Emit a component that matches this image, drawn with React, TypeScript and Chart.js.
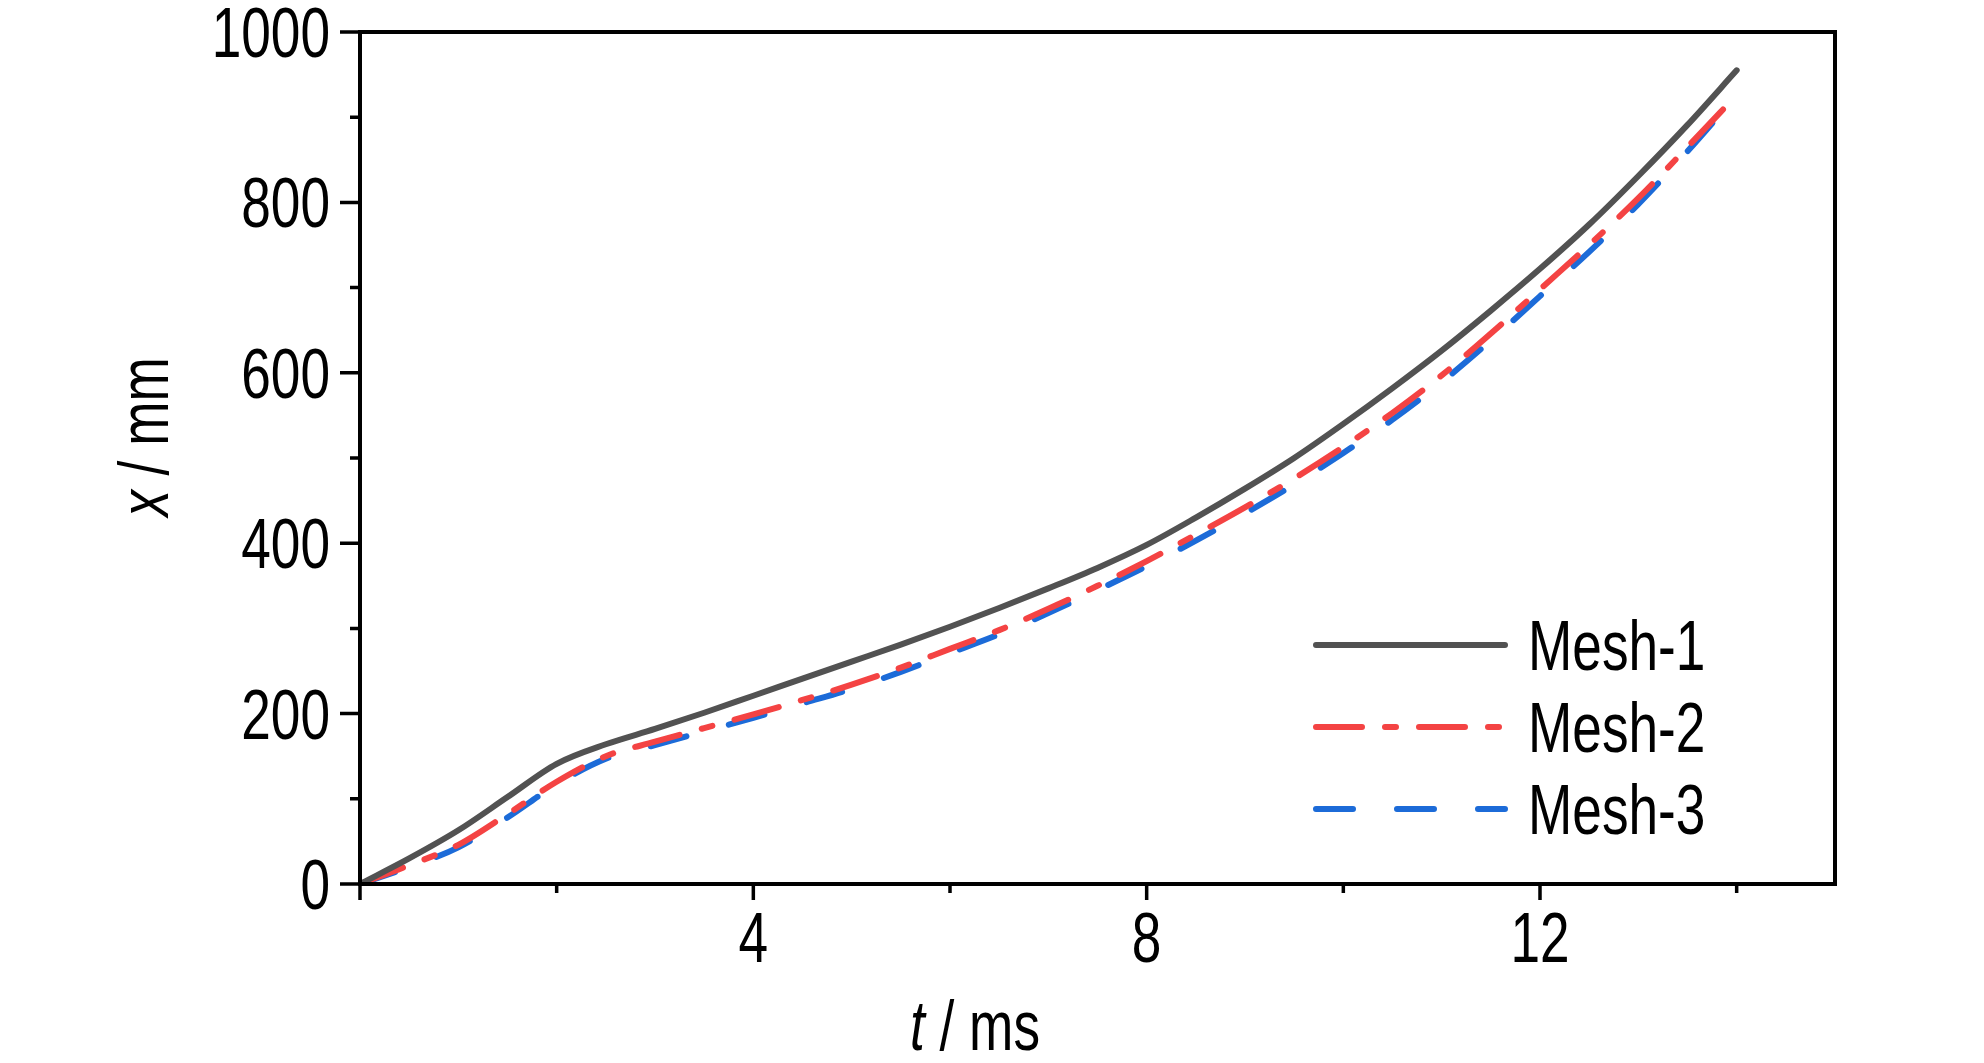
import React, { useEffect, useRef } from 'react';
import { Chart, registerables } from 'chart.js';

Chart.register(...registerables);

// ---- data ----
const timeMs = [0, 0.5, 1, 1.5, 2, 2.5, 3, 3.5, 4, 4.5, 5, 5.5, 6, 6.5, 7, 7.5, 8, 8.5, 9, 9.5, 10, 10.5, 11, 11.5, 12, 12.5, 13, 13.5, 14];
const mesh1 = [0, 30, 63, 102, 141, 164, 182, 201, 221, 241, 261, 281, 302, 324, 347, 371, 398, 430, 464, 500, 540, 582, 626, 673, 722, 774, 831, 891, 955];
const mesh2 = [0, 22, 46, 82, 120, 150, 167, 183, 199, 216, 234, 254, 276, 298, 323, 350, 379, 410, 442, 476, 513, 553, 597, 646, 698, 750, 805, 865, 926];
const mesh3 = [0, 20, 43, 78, 117, 147, 163, 179, 195, 212, 229, 249, 271, 293, 318, 345, 373, 403, 435, 469, 506, 545, 589, 638, 690, 742, 798, 860, 926];
const seriesLabels = ['Mesh-1', 'Mesh-2', 'Mesh-3'];

const xTickLabels = [4, 8, 12];
const yTickLabels = [0, 200, 400, 600, 800, 1000];
const xMajorTicks = [0, 4, 8, 12];
const xMinorTicks = [2, 6, 10, 14];
const yMajorTicks = [0, 200, 400, 600, 800, 1000];
const yMinorTicks = [100, 300, 500, 700, 900];
const xTitleItalic = 't';
const xTitleRest = ' / ms';
const yTitleItalic = 'x';
const yTitleRest = ' / mm';

const FONT = "'Liberation Sans', Arial, sans-serif";
const FS = 70;
const SX = 0.76; // horizontal condensation of the reference's narrow typeface

const W = 1984;
const H = 1063;

function narrowText(ctx: any, text: string, x: number, y: number, align: string, italic = false) {
  ctx.save();
  ctx.translate(x, y);
  ctx.scale(SX, 1);
  ctx.font = `${italic ? 'italic ' : ''}${FS}px ${FONT}`;
  ctx.textAlign = align;
  ctx.textBaseline = 'alphabetic';
  ctx.fillText(text, 0, 0);
  ctx.restore();
}

function textWidth(ctx: any, text: string, italic = false) {
  ctx.save();
  ctx.font = `${italic ? 'italic ' : ''}${FS}px ${FONT}`;
  const w = ctx.measureText(text).width * SX;
  ctx.restore();
  return w;
}

const framePlugin = {
  id: 'framePlugin',
  afterDraw(chart: any) {
    const { ctx, chartArea, scales } = chart;
    const xs = scales.x;
    const ys = scales.y;
    ctx.save();
    ctx.strokeStyle = '#000';
    ctx.lineWidth = 4;
    ctx.lineCap = 'butt';
    ctx.strokeRect(chartArea.left, chartArea.top, chartArea.right - chartArea.left, chartArea.bottom - chartArea.top);
    ctx.lineWidth = 3.5;
    ctx.beginPath();
    xMajorTicks.forEach((v) => {
      const px = xs.getPixelForValue(v);
      ctx.moveTo(px, chartArea.bottom);
      ctx.lineTo(px, chartArea.bottom + 16);
    });
    xMinorTicks.forEach((v) => {
      const px = xs.getPixelForValue(v);
      ctx.moveTo(px, chartArea.bottom);
      ctx.lineTo(px, chartArea.bottom + 9);
    });
    yMajorTicks.forEach((v) => {
      const py = ys.getPixelForValue(v);
      ctx.moveTo(chartArea.left, py);
      ctx.lineTo(chartArea.left - 20, py);
    });
    yMinorTicks.forEach((v) => {
      const py = ys.getPixelForValue(v);
      ctx.moveTo(chartArea.left, py);
      ctx.lineTo(chartArea.left - 10, py);
    });
    ctx.stroke();

    ctx.fillStyle = '#000';
    // tick labels
    xTickLabels.forEach((v) => {
      narrowText(ctx, String(v), xs.getPixelForValue(v), chartArea.bottom + 78, 'center');
    });
    yTickLabels.forEach((v) => {
      narrowText(ctx, String(v), chartArea.left - 30, ys.getPixelForValue(v) + 25, 'right');
    });

    // x title
    const wxi = textWidth(ctx, xTitleItalic, true);
    const wxr = textWidth(ctx, xTitleRest);
    const startX = 975 - (wxi + wxr) / 2;
    narrowText(ctx, xTitleItalic, startX, 1050, 'left', true);
    narrowText(ctx, xTitleRest, startX + wxi, 1050, 'left');

    // y title (rotated)
    ctx.save();
    ctx.translate(168, 437);
    ctx.rotate(-Math.PI / 2);
    const wyi = textWidth(ctx, yTitleItalic, true);
    const wyr = textWidth(ctx, yTitleRest);
    const sy = -(wyi + wyr) / 2;
    narrowText(ctx, yTitleItalic, sy, 0, 'left', true);
    narrowText(ctx, yTitleRest, sy + wyi, 0, 'left');
    ctx.restore();

    // legend
    const legendY = [645, 727, 809];
    chart.data.datasets.forEach((ds: any, i: number) => {
      const y = legendY[i];
      ctx.save();
      ctx.strokeStyle = ds.borderColor;
      ctx.lineWidth = ds.borderWidth;
      ctx.lineCap = 'round';
      ctx.setLineDash(ds.borderDash || []);
      ctx.beginPath();
      ctx.moveTo(1316, y);
      ctx.lineTo(1505, y);
      ctx.stroke();
      ctx.restore();
      ctx.fillStyle = '#000';
      narrowText(ctx, ds.label, 1528, y + 25, 'left');
    });
    ctx.restore();
  },
};

export default function App() {
  const ref = useRef<HTMLCanvasElement | null>(null);
  useEffect(() => {
    if (!ref.current) return;
    const mk = (arr: number[]) => timeMs.map((t, i) => ({ x: t, y: arr[i] }));
    const chart = new Chart(ref.current, {
      type: 'line',
      data: {
        datasets: [
          {
            label: seriesLabels[0],
            data: mk(mesh1),
            borderColor: '#525252',
            borderWidth: 6,
            borderCapStyle: 'round',
            pointRadius: 0,
            cubicInterpolationMode: 'monotone',
            fill: false,
          },
          {
            label: seriesLabels[1],
            data: mk(mesh2),
            borderColor: '#f44343',
            borderWidth: 6,
            borderCapStyle: 'round',
            borderDash: [46, 23, 11, 23],
            pointRadius: 0,
            cubicInterpolationMode: 'monotone',
            fill: false,
          },
          {
            label: seriesLabels[2],
            data: mk(mesh3),
            borderColor: '#1c6bd8',
            borderWidth: 6,
            borderCapStyle: 'round',
            borderDash: [37, 44],
            pointRadius: 0,
            cubicInterpolationMode: 'monotone',
            fill: false,
          },
        ],
      },
      options: {
        responsive: false,
        animation: false,
        devicePixelRatio: 1,
        layout: { padding: { top: 32, right: 149, left: 0, bottom: 0 } },
        plugins: {
          legend: { display: false },
          tooltip: { enabled: false },
          title: { display: false },
        },
        scales: {
          x: {
            type: 'linear',
            min: 0,
            max: 15,
            afterFit: (scale: any) => {
              scale.height = 179;
            },
            ticks: { display: false },
            grid: { display: false },
            border: { display: false },
          },
          y: {
            type: 'linear',
            min: 0,
            max: 1000,
            afterFit: (scale: any) => {
              scale.width = 360;
            },
            ticks: { display: false },
            grid: { display: false },
            border: { display: false },
          },
        },
      },
      plugins: [framePlugin],
    } as any);
    return () => chart.destroy();
  }, []);
  return (
    <div style={{ position: 'fixed', left: 0, top: 0, width: W, height: H, background: '#fff' }}>
      <canvas ref={ref} width={W} height={H} style={{ display: 'block', width: W, height: H }} />
    </div>
  );
}
